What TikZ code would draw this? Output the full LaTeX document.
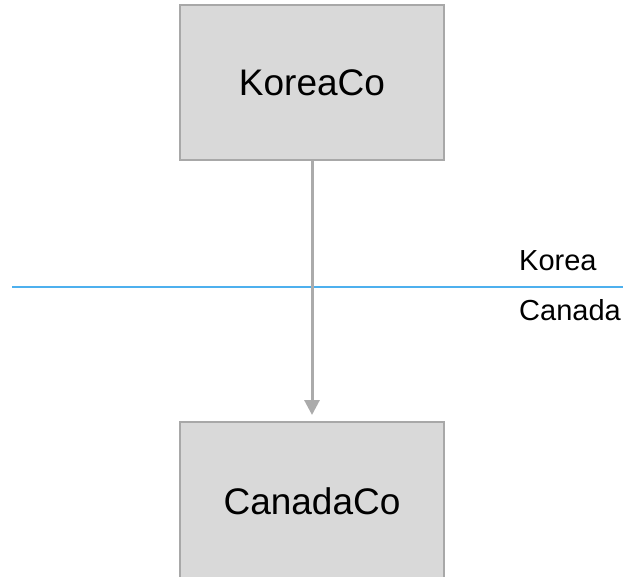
\documentclass[tikz,border=0pt]{standalone}
\usepackage{fontspec}
\setmainfont{Liberation Sans}
\usetikzlibrary{arrows.meta}
\definecolor{boxfill}{HTML}{D9D9D9}
\definecolor{boxline}{HTML}{A8A8A8}
\definecolor{flow}{HTML}{ABABAB}
\definecolor{border}{HTML}{4DB0EE}
\begin{document}
\begin{tikzpicture}[x=1pt,y=-1pt,
  company/.style={draw=boxline, line width=2pt, fill=boxfill,
    minimum width=264pt, minimum height=155pt, inner sep=0pt,
    font=\fontsize{37}{44}\selectfont},
  region/.style={anchor=base west, inner sep=0pt,
    font=\fontsize{29}{34}\selectfont},
  flowarrow/.style={draw=flow, line width=3pt,
    -{Triangle[length=15pt,width=15pt]}}]
\useasboundingbox (0,0) rectangle (623,576);
% the two companies
\node[company] (korea) at (312,82.5) {KoreaCo};
\node[company, minimum height=158pt] (canada) at (312,501) {CanadaCo};
% the border between the two countries
\coordinate (west) at (12,287);
\coordinate (east) at (623,287);
\draw[border, line width=2pt] (west) -- (east);
\node[region] (lk) at (519,270) {Korea};
\node[region] (lc) at (519,320) {Canada};
% the flow from one company to the other
\draw[flowarrow] (korea.south) -- ([yshift=6pt]canada.north);
\end{tikzpicture}
\end{document}
